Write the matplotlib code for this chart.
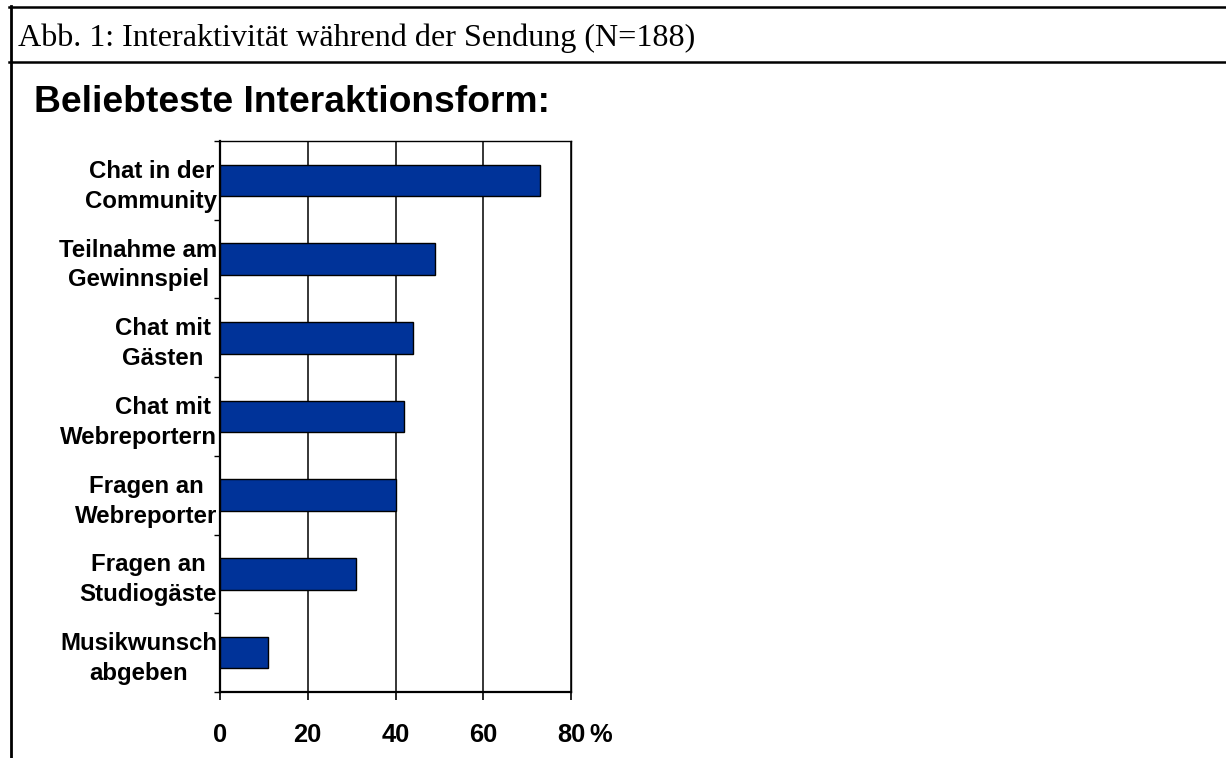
import matplotlib
matplotlib.use("Agg")

from matplotlib import pyplot as plt
from matplotlib.lines import Line2D

plt.rcParams['font.family'] = ['Liberation Sans', 'DejaVu Sans']

caption = "Abb. 1: Interaktivität während der Sendung (N=188)"
title = "Beliebteste Interaktionsform:"
categories = ["Chat in der\nCommunity", "Teilnahme am\nGewinnspiel", "Chat mit \nGästen ",
              "Chat mit \nWebreportern", "Fragen an\nWebreporter", "Fragen an\nStudiogäste",
              "Musikwunsch\nabgeben"]
values = [73, 49, 44, 42, 40, 31, 11]
xticks = [0, 20, 40, 60, 80]
xticklabels = ["0", "20", "40", "60", "80"]
unit = "%"

W, H = 1226, 758
fig = plt.figure(figsize=(W / 100, H / 100), dpi=100)

# plot area in pixels of the reference
left, right, top, bottom = 220, 571, 141, 692
ax = fig.add_axes([left / W, 1 - bottom / H, (right - left) / W, (bottom - top) / H])

pos = list(range(len(categories)))
ax.barh(pos, values, height=0.4, color="#003399", edgecolor="black", linewidth=1.0, zorder=3)

ax.set_xlim(0, 80)
ax.set_ylim(len(categories) - 0.5, -0.5)

ax.set_xticks(xticks)
ax.set_xticklabels(xticklabels, fontsize=18.4, fontweight="bold")
ax.tick_params(axis="x", length=5.8, width=1.2, pad=16.5, color="black")

ax.set_yticks(pos)
ax.set_yticklabels(categories, fontsize=17.3, fontweight="bold", multialignment="center", linespacing=1.38)
ax.get_yticklabels()[3].set_multialignment("right")
ax.tick_params(axis="y", which="major", length=0, pad=2)
ax.set_yticks([p - 0.5 for p in pos] + [pos[-1] + 0.5], minor=True)
ax.tick_params(axis="y", which="minor", length=4.5, width=1.0, color="black")

ax.grid(axis="x", color="black", linewidth=1.1, zorder=0)
ax.set_axisbelow(True)
for s in ("left", "bottom"):
    ax.spines[s].set_linewidth(1.6)
for s in ("top", "right"):
    ax.spines[s].set_linewidth(1.0)

ax.annotate(unit, xy=(80, 0), xycoords=ax.get_xaxis_transform(), xytext=(18, -31),
            textcoords="offset pixels", ha="left", va="top", fontsize=18.4, fontweight="bold")

fig.text(34 / W, 1 - 111.7 / H, title, ha="left", va="baseline", fontsize=26.8, fontweight="bold")
fig.text(18 / W, 1 - 46 / H, caption, ha="left", va="baseline", fontsize=23.1,
         family=["Liberation Serif", "DejaVu Serif"])

# table frame lines
fig.add_artist(Line2D([9 / W, 1], [1 - 7 / H, 1 - 7 / H], color="black", linewidth=1.8))
fig.add_artist(Line2D([9 / W, 1], [1 - 62 / H, 1 - 62 / H], color="black", linewidth=1.8))
fig.add_artist(Line2D([10.5 / W, 10.5 / W], [0, 1 - 6 / H], color="black", linewidth=2.0))

fig.savefig("out.png", dpi=100)
